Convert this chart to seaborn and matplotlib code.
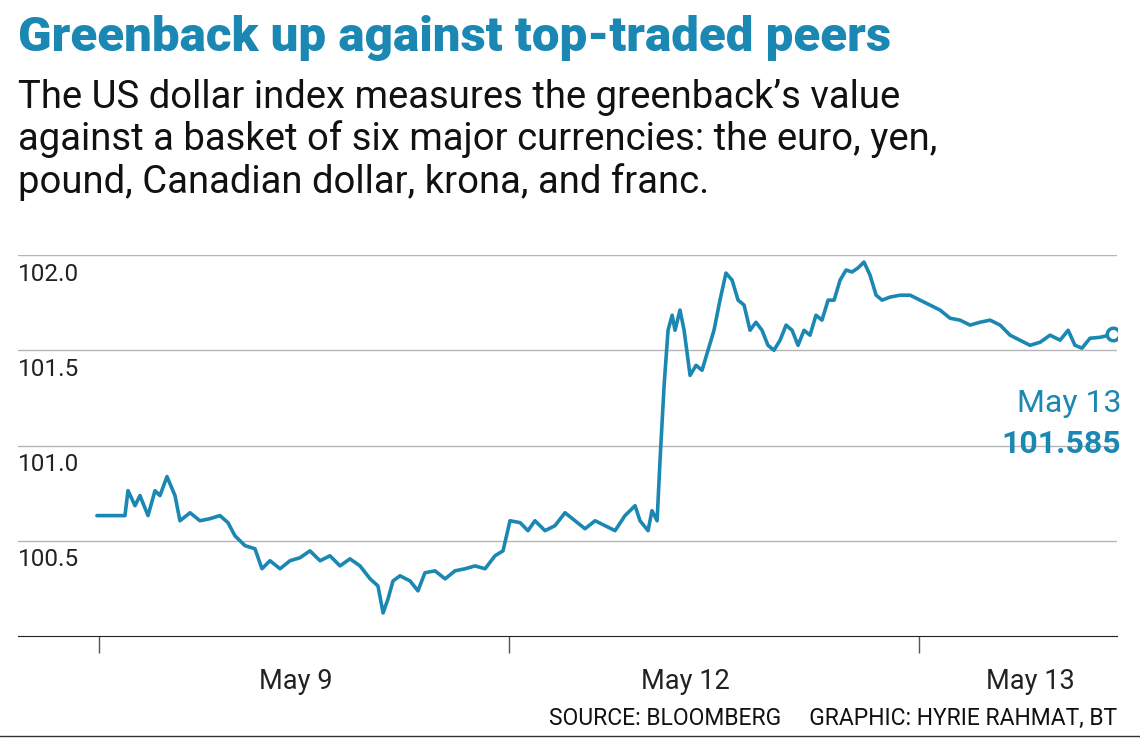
import matplotlib
matplotlib.use("Agg")
import matplotlib.pyplot as plt
import seaborn as sns
import pandas as pd

hours = [-0.12,1.52,1.70,2.11,2.40,2.87,3.28,3.57,3.98,4.45,4.74,5.33,5.91,6.50,7.08,7.55,7.96,8.55,9.13,9.54,10.01,10.60,11.18,11.77,12.35,12.94,13.52,14.11,14.69,15.28,15.87,16.33,16.63,16.92,17.21,17.62,18.21,18.67,19.08,19.67,20.26,20.84,21.43,22.01,22.60,23.18,23.65,24.06,24.65,25.11,25.52,26.11,26.69,27.28,27.86,28.45,29.04,29.62,30.21,30.79,31.38,31.67,32.14,32.37,32.67,32.84,33.08,33.31,33.55,33.72,34.01,34.25,34.60,34.95,35.30,35.65,36.00,36.35,36.70,37.06,37.41,37.76,38.11,38.46,38.81,39.16,39.51,39.87,40.22,40.57,40.92,41.27,41.62,41.97,42.32,42.68,43.03,43.38,43.73,44.08,44.43,44.78,45.13,45.49,45.84,46.30,46.89,47.48,48.06,48.65,49.23,49.82,50.40,50.99,51.57,52.16,52.75,53.33,53.91,54.50,55.09,55.67,56.26,56.73,57.13,57.54,58.01,58.60,59.36]
index = [100.632,100.632,100.763,100.684,100.737,100.632,100.763,100.737,100.837,100.737,100.605,100.647,100.605,100.616,100.632,100.595,100.526,100.474,100.458,100.353,100.395,100.353,100.395,100.411,100.447,100.395,100.421,100.368,100.405,100.368,100.300,100.263,100.121,100.195,100.289,100.316,100.289,100.237,100.332,100.342,100.300,100.342,100.353,100.368,100.353,100.421,100.447,100.605,100.595,100.553,100.605,100.553,100.579,100.647,100.605,100.563,100.605,100.579,100.553,100.632,100.684,100.605,100.553,100.658,100.605,100.921,101.316,101.605,101.684,101.605,101.711,101.605,101.368,101.421,101.395,101.500,101.605,101.763,101.905,101.868,101.763,101.737,101.605,101.647,101.605,101.526,101.500,101.553,101.632,101.605,101.526,101.605,101.579,101.684,101.658,101.763,101.763,101.868,101.921,101.911,101.932,101.963,101.895,101.789,101.763,101.779,101.789,101.789,101.763,101.737,101.711,101.668,101.658,101.632,101.647,101.658,101.632,101.579,101.553,101.526,101.542,101.579,101.553,101.605,101.526,101.511,101.563,101.568,101.584]
yticks = [100.5, 101.0, 101.5, 102.0]
day_ticks = [0, 24, 48]
day_labels = ["May 9", "May 12", "May 13"]
day_label_pos = [11.5, 34.3, 54.5]
last_label = "May 13"
last_value = "101.585"

df = pd.DataFrame({"hours": hours, "index": index})
blue = "#1b87b3"
sns.set_style("white", {"xtick.bottom": True})
plt.rcParams["font.family"] = ["Roboto", "DejaVu Sans"]

fig = plt.figure(figsize=(11.4, 7.42), dpi=100)
ax = fig.add_axes([18/1140, 1-636/742, (1117-18)/1140, (636-255)/742])
ax.set_xlim(-4.74, 59.59)
ax.set_ylim(100.0, 102.0)
for yv in yticks:
    ax.axhline(yv, color="#b5b5b5", lw=1, zorder=0)
    ax.text(0.0, yv - 0.04, f"{yv:.1f}", transform=ax.get_yaxis_transform(),
            ha="left", va="top", fontsize=17.5, color="#222")
sns.lineplot(data=df, x="hours", y="index", ax=ax, color=blue, lw=2.6)
ax.plot(hours[-1], index[-1], "o", ms=9, mfc="white", mec=blue, mew=2.5, zorder=5)
for s in ["top", "right", "left"]:
    ax.spines[s].set_visible(False)
ax.spines["bottom"].set_color("#222")
ax.set_yticks([])
ax.set_xticks(day_ticks)
ax.set_xticklabels([])
ax.tick_params(axis="x", direction="out", length=12, width=1, color="#555", bottom=True)
for p, l in zip(day_label_pos, day_labels):
    ax.text(p, 99.83, l, ha="center", va="top", fontsize=19.5, color="#222")
ax.set_xlabel(""); ax.set_ylabel("")
ax.text(59.85, 101.22, last_label, ha="right", va="center", fontsize=23, color=blue, clip_on=False)
ax.text(59.85, 101.01, last_value, ha="right", va="center", fontsize=23, color=blue, weight="bold", clip_on=False)

fig.text(18/1140, 1-38/742, "Greenback up against top-traded peers", fontsize=35.5, weight="black",
         color=blue, va="center", ha="left")
fig.text(18/1140, 1-140/742, "The US dollar index measures the greenback\u2019s value\nagainst a basket of six major currencies: the euro, yen,\npound, Canadian dollar, krona, and franc.",
         fontsize=27.5, color="#111", va="center", ha="left", linespacing=1.15)
fig.text(1117/1140, 1-718/742, "SOURCE: BLOOMBERG     GRAPHIC: HYRIE RAHMAT, BT", fontsize=16.5,
         color="#111", ha="right", va="center")
fig.add_artist(plt.Line2D([0, 1], [1-736/742]*2, color="#333", lw=1))
fig.savefig("out.png", dpi=100)
